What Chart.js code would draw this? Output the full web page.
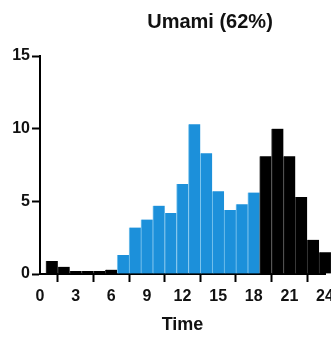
<!DOCTYPE html>
<html>
<head>
<meta charset="utf-8">
<script src="https://cdn.jsdelivr.net/npm/chart.js@4"></script>
<style>
  body { margin: 0; background: #fff; }
  canvas { display: block; }
</style>
</head>
<body>
<canvas id="umamiChart" width="331" height="337"></canvas>
<script>
// hourly activity, one bar per hour
const hours = [1, 2, 3, 4, 5, 6, 7, 8, 9, 10, 11, 12, 13, 14, 15, 16, 17, 18, 19, 20, 21, 22, 23, 24];
const counts = [0.9, 0.5, 0.2, 0.2, 0.2, 0.3, 1.3, 3.2, 3.75, 4.7, 4.2, 6.2, 10.3, 8.3, 5.7, 4.4, 4.8, 5.6, 8.1, 10.0, 8.1, 5.3, 2.35, 1.5];
const xTicks = [0, 3, 6, 9, 12, 15, 18, 21, 24];
const yTicks = [0, 5, 10, 15];
const lightStart = 7, lightEnd = 18;

const FONT = "'Liberation Sans', Arial, sans-serif";

const isLight = h => h >= lightStart && h <= lightEnd;

// title sits a bit right of the plot centre, drawn by hand
const chartTitle = {
    id: 'chartTitle',
    afterDraw(chart) {
        const ctx = chart.ctx;
        ctx.save();
        ctx.font = "bold 20px " + FONT;
        ctx.fillStyle = '#111';
        ctx.textAlign = 'center';
        ctx.textBaseline = 'middle';
        ctx.fillText('Umami (62%)', 210, 22);
        ctx.restore();
    }
};

const axisGrid = {
    drawOnChartArea: false,
    drawTicks: true,
    tickLength: 8,
    tickWidth: 2,
    tickColor: '#000'
};

new Chart(document.getElementById('umamiChart'), {
    type: 'bar',
    data: {
        datasets: [{
            data: hours.map((h, i) => ({ x: h, y: counts[i] })),
            backgroundColor: ctx => isLight(hours[ctx.dataIndex]) ? '#1c90da' : '#000',
            borderColor: ctx => isLight(hours[ctx.dataIndex]) ? '#7fc6ee' : '#3a3a3a',
            borderWidth: { left: 1, right: 0, top: 0, bottom: 0 },
            borderSkipped: false,
            barPercentage: 1,
            categoryPercentage: 1,
            clip: false
        }]
    },
    options: {
        responsive: false,
        animation: false,
        devicePixelRatio: 1,
        layout: { padding: { top: 56, right: 6, left: 0, bottom: 0 } },
        plugins: {
            legend: { display: false },
            tooltip: { enabled: false }
        },
        scales: {
            x: {
                type: 'linear',
                min: 0,
                max: 24,
                offset: false,
                grid: axisGrid,
                border: { display: true, color: '#000', width: 2 },
                afterBuildTicks: scale => { scale.ticks = xTicks.map(v => ({ value: v })); },
                ticks: {
                    color: '#111',
                    padding: 5,
                    maxRotation: 0,
                    autoSkip: false,
                    font: { family: FONT, size: 16, weight: 'bold' }
                },
                title: {
                    display: true,
                    text: 'Time',
                    color: '#111',
                    padding: { top: 0, bottom: 1 },
                    font: { family: FONT, size: 18, weight: 'bold' }
                },
                afterFit: scale => { scale.height = 63; scale.paddingRight = 0; }
            },
            y: {
                min: 0,
                max: 15,
                grid: axisGrid,
                border: { display: true, color: '#000', width: 2 },
                afterBuildTicks: scale => { scale.ticks = yTicks.map(v => ({ value: v })); },
                ticks: {
                    color: '#111',
                    padding: 2,
                    font: { family: FONT, size: 16, weight: 'bold' }
                },
                afterFit: scale => { scale.width = 40; }
            }
        }
    },
    plugins: [chartTitle]
});
</script>
</body>
</html>
